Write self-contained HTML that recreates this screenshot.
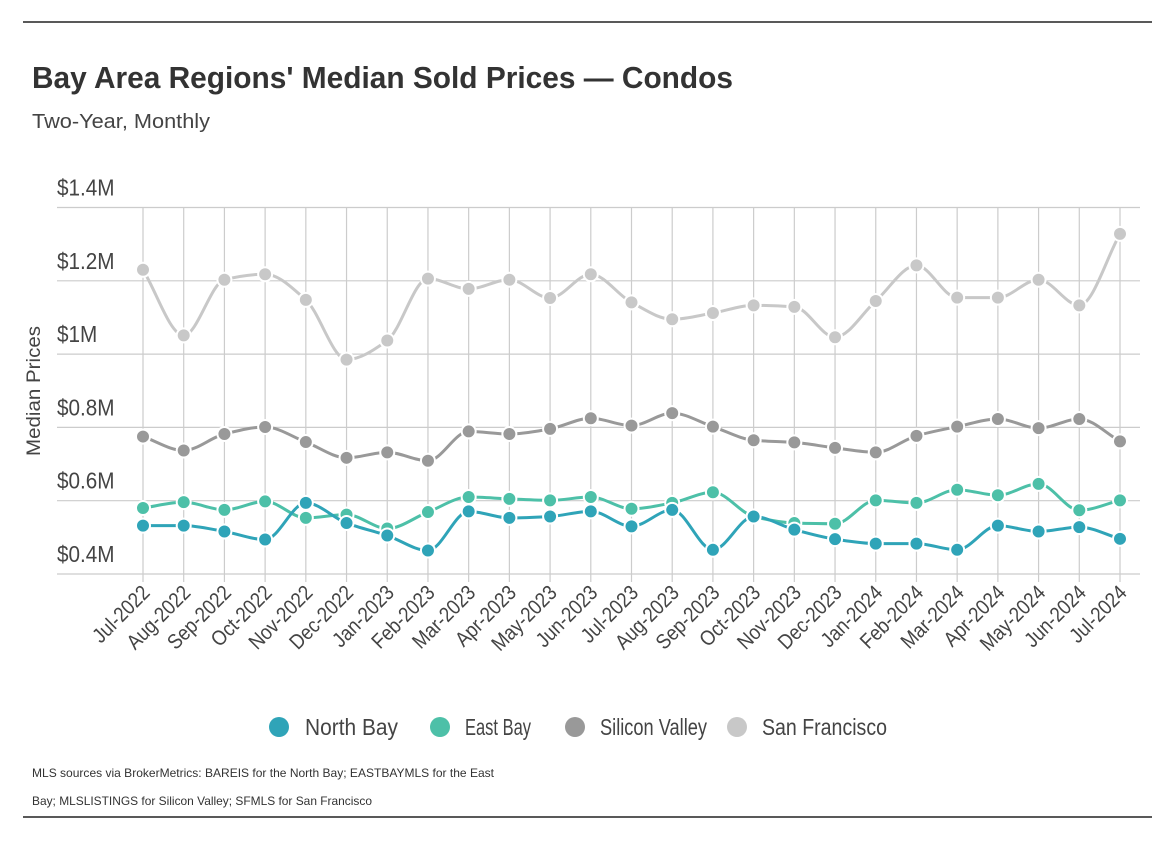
<!DOCTYPE html>
<html><head><meta charset="utf-8"><style>
body{margin:0;background:#fff;width:1174px;height:838px;overflow:hidden;font-family:"Liberation Sans",sans-serif;}
</style></head><body>
<svg width="1174" height="838" style="font-family:'Liberation Sans',sans-serif">
<line x1="23" y1="22" x2="1152" y2="22" stroke="#222" stroke-width="1.5"/>
<line x1="23" y1="817" x2="1152" y2="817" stroke="#222" stroke-width="1.5"/>
<text x="32" y="88" font-size="31" font-weight="bold" fill="#333" textLength="701" lengthAdjust="spacingAndGlyphs">Bay Area Regions' Median Sold Prices — Condos</text>
<text x="32" y="128" font-size="20" fill="#444" textLength="178" lengthAdjust="spacingAndGlyphs">Two-Year, Monthly</text>
<text transform="translate(40,391) rotate(-90)" text-anchor="middle" font-size="19" fill="#444" textLength="130" lengthAdjust="spacingAndGlyphs">Median Prices</text>
<g id="grid"></g><g id="series"></g><g id="xlabels"></g>
<g>
<circle cx="279" cy="727" r="10" fill="#2fa4b8"/>
<text x="305" y="735" font-size="23" fill="#444" textLength="93" lengthAdjust="spacingAndGlyphs">North Bay</text>
<circle cx="440" cy="727" r="10" fill="#4dc0a8"/>
<text x="465" y="735" font-size="23" fill="#444" textLength="66" lengthAdjust="spacingAndGlyphs">East Bay</text>
<circle cx="575" cy="727" r="10" fill="#999"/>
<text x="600" y="735" font-size="23" fill="#444" textLength="107" lengthAdjust="spacingAndGlyphs">Silicon Valley</text>
<circle cx="737" cy="727" r="10" fill="#c8c8c8"/>
<text x="762" y="735" font-size="23" fill="#444" textLength="125" lengthAdjust="spacingAndGlyphs">San Francisco</text>
</g>
<text x="32" y="777" font-size="12" fill="#333" textLength="462" lengthAdjust="spacingAndGlyphs">MLS sources via BrokerMetrics: BAREIS for the North Bay; EASTBAYMLS for the East</text>
<text x="32" y="805" font-size="12" fill="#333" textLength="340" lengthAdjust="spacingAndGlyphs">Bay; MLSLISTINGS for Silicon Valley; SFMLS for San Francisco</text>
</svg>
<script>
const months=["Jul-2022","Aug-2022","Sep-2022","Oct-2022","Nov-2022","Dec-2022","Jan-2023","Feb-2023","Mar-2023","Apr-2023","May-2023","Jun-2023","Jul-2023","Aug-2023","Sep-2023","Oct-2023","Nov-2023","Dec-2023","Jan-2024","Feb-2024","Mar-2024","Apr-2024","May-2024","Jun-2024","Jul-2024"];
const yTicks=[0.4,0.6,0.8,1.0,1.2,1.4];
const yTickLabels=["$0.4M","$0.6M","$0.8M","$1M","$1.2M","$1.4M"];
const sanFrancisco=[1.230,1.051,1.203,1.218,1.148,0.985,1.037,1.206,1.178,1.203,1.153,1.218,1.141,1.095,1.112,1.133,1.129,1.046,1.145,1.242,1.154,1.154,1.203,1.133,1.328];
const siliconValley=[0.775,0.737,0.782,0.801,0.760,0.717,0.732,0.709,0.789,0.782,0.796,0.825,0.805,0.839,0.802,0.765,0.759,0.744,0.732,0.777,0.802,0.823,0.798,0.823,0.762];
const eastBay=[0.580,0.596,0.575,0.598,0.553,0.562,0.524,0.569,0.610,0.605,0.601,0.610,0.578,0.594,0.623,0.557,0.539,0.537,0.601,0.594,0.630,0.615,0.646,0.574,0.601];
const northBay=[0.532,0.532,0.516,0.494,0.594,0.539,0.505,0.464,0.571,0.553,0.557,0.571,0.530,0.575,0.466,0.557,0.521,0.495,0.483,0.483,0.466,0.532,0.516,0.528,0.496];
const NS="http://www.w3.org/2000/svg";
const X0=143,X1=1120,PL=57,PR=1140;
function xs(i){return X0+(X1-X0)*i/(months.length-1);}
function ys(v){return 574-(v-0.4)/0.2*73.3;}
function mk(t,a,p){const e=document.createElementNS(NS,t);for(const k in a)e.setAttribute(k,a[k]);p.appendChild(e);return e;}
const grid=document.getElementById('grid');
yTicks.forEach((v,i)=>{
 const l=mk('line',{x1:PL,x2:PR,y1:ys(v),y2:ys(v),stroke:'#ccc','stroke-width':1.2},grid);
 
 
 const t=mk('text',{x:57,y:ys(v)-12,'font-size':23,fill:'#444',transform:`translate(57,0) scale(0.9,1) translate(-57,0)`},grid);t.textContent=yTickLabels[i];
 
 
});
const xl=document.getElementById('xlabels');
months.forEach((m,i)=>{
 const l=mk('line',{x1:xs(i),x2:xs(i),y1:ys(1.4),y2:ys(0.4)+8,stroke:'#ccc','stroke-width':1.2},grid);
 
 
 const t=mk('text',{x:0,y:0,'font-size':21,fill:'#444','text-anchor':'end',transform:`translate(${xs(i)+8},${594}) rotate(-45) scale(0.88,1)`},xl);t.textContent=m;
 
 
});
function path(vals){
 const p=vals.map((v,i)=>[xs(i),ys(v)]);const n=p.length;
 const d=[],m=[];
 for(let i=0;i<n-1;i++)d.push((p[i+1][1]-p[i][1])/(p[i+1][0]-p[i][0]));
 m[0]=d[0];m[n-1]=d[n-2];
 for(let i=1;i<n-1;i++)m[i]=(d[i-1]*d[i]<=0)?0:(2/(1/d[i-1]+1/d[i]));
 let s=`M${p[0][0]},${p[0][1]}`;
 for(let i=0;i<n-1;i++){const h=(p[i+1][0]-p[i][0])/3;
  s+=` C${p[i][0]+h},${p[i][1]+m[i]*h} ${p[i+1][0]-h},${p[i+1][1]-m[i+1]*h} ${p[i+1][0]},${p[i+1][1]}`;}
 return s;
}
const sg=document.getElementById('series');
[[sanFrancisco,'#c8c8c8','san-francisco'],[siliconValley,'#999999','silicon-valley'],[eastBay,'#4dc0a8','east-bay'],[northBay,'#2fa4b8','north-bay']].forEach(([vals,c,n])=>{
 const g=mk('g',{},sg);
 
 
 const pa=mk('path',{d:path(vals),fill:'none',stroke:c,'stroke-width':3},g);
 
 
 vals.forEach((v,i)=>{
  const ci=mk('circle',{cx:xs(i),cy:ys(v),r:7,fill:c,stroke:'#fff','stroke-width':2},g);
  
  
 });
});
</script>
</body></html>
